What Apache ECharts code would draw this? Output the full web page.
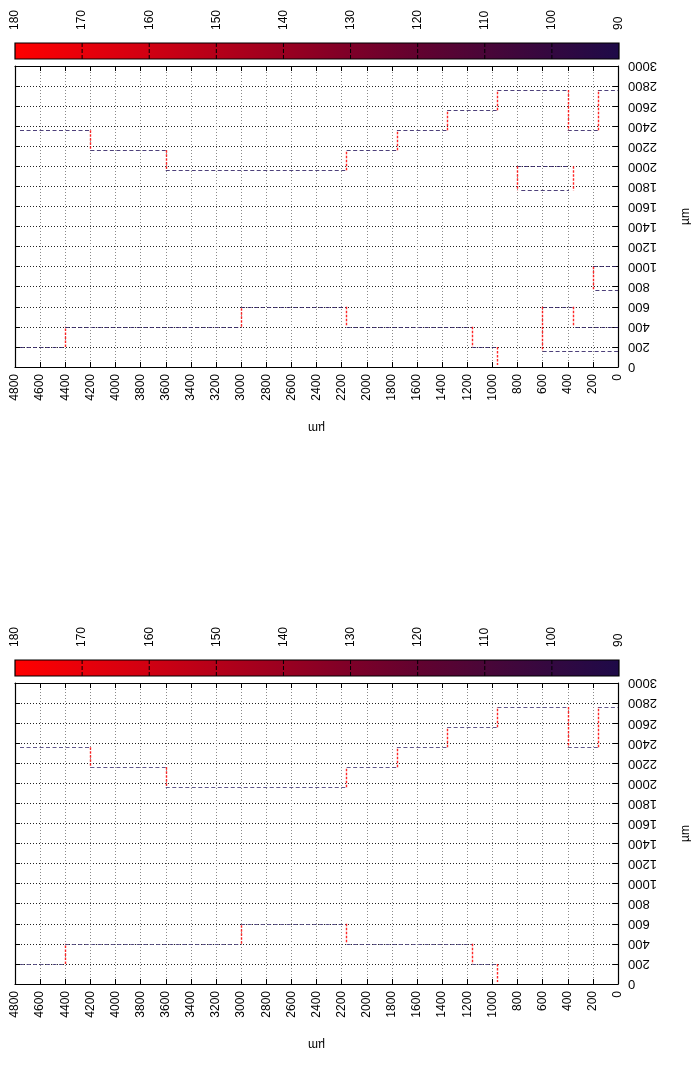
<!DOCTYPE html>
<html><head><meta charset="utf-8">
<script src="https://cdn.jsdelivr.net/npm/echarts@6/dist/echarts.min.js"></script>
<style>html,body{margin:0;padding:0;background:#fff}#c{width:691px;height:1068px}</style>
</head><body><div id="c"></div>
<script>
// ---- data ----
const xRange = [0, 4800];
const yRange = [0, 3000];
const tickStep = 200;
const cbRange = [90, 180];
const cbStep = 10;
const axisName = 'µm';

// step profiles (x in µm, y in µm), shared by both panels
const lowerProfile = [[4760,200],[4400,200],[4400,400],[3000,400],[3000,600],[2160,600],[2160,400],[1160,400],[1160,200],[960,200],[960,20]];
const upperProfile = [[4760,2360],[4200,2360],[4200,2160],[3600,2160],[3600,1960],[2160,1960],[2160,2160],[1760,2160],[1760,2360],[1360,2360],[1360,2560],[960,2560],[960,2760],[400,2760],[400,2360],[160,2360],[160,2760],[0,2760]];
// extra segments only in the top panel [x1,y1,x2,y2]
const extraTop = [
  [800,2000,390,2000],[770,1760,390,1760],[800,2000,800,1760],[360,2000,360,1760],
  [200,1000,0,1000],[200,1000,200,760],[180,760,0,760],
  [600,600,340,600],[600,600,600,160],[360,600,360,400],[340,400,0,400],[600,160,0,160]
];
// palette stops for colour bar from 180 (left) to 90 (right)
const cbColors = ['#ff0000','#e8000a','#d00012','#b50019','#9a0020','#7e0028','#62022f','#4a0638','#330840','#1e0a48'];

// ---- helpers ----
function pathToSegs(p){const s=[];for(let i=0;i<p.length-1;i++)s.push([p[i][0],p[i][1],p[i+1][0],p[i+1][1]]);return s;}
const baseSegs = pathToSegs(lowerProfile).concat(pathToSegs(upperProfile));
const panelSegs = [baseSegs.concat(extraTop), baseSegs];

const layout = [{cbTop:43, top:66, hzColor:'#2e1f63'},{cbTop:660, top:683, hzColor:'#4a3f7a'}];
const L = 15, W = 603, H = 301, CBH = 16;
const plain = v => String(v);

const grids=[], xAxes=[], yAxes=[], series=[];
const cbTicks=[]; for(let v=cbRange[0]; v<=cbRange[1]; v+=cbStep) cbTicks.push(v);
const font = 'Liberation Sans, Arial, sans-serif';

layout.forEach((ly, i) => {
  const gPlot = grids.length;
  grids.push({left:L, top:ly.top, width:W, height:H, containLabel:false, outerBoundsMode:'none'});
  const gCb = grids.length;
  grids.push({left:L, top:ly.cbTop, width:W+1, height:CBH, containLabel:false, outerBoundsMode:'none'});
  const xi = xAxes.length;
  xAxes.push({type:'value', gridIndex:gPlot, min:xRange[0], max:xRange[1], interval:tickStep, inverse:true, position:'bottom',
    name: axisName, nameLocation:'middle', nameGap:54, nameRotate:180, nameTextStyle:{fontSize:12, color:'#000', fontFamily:font},
    axisLine:{show:true, onZero:false, lineStyle:{color:'#000', width:1.2}},
    axisTick:{show:true, inside:true, length:5, lineStyle:{color:'#000'}},
    axisLabel:{rotate:90, fontSize:12, margin:7, color:'#000', fontFamily:font, formatter:plain},
    splitLine:{show:true, lineStyle:{color:'#8a8a8a', type:[1,2], width:1}}});
  xAxes.push({type:'value', gridIndex:gPlot, min:xRange[0], max:xRange[1], interval:tickStep, inverse:true, position:'top',
    axisLine:{show:true, onZero:false, lineStyle:{color:'#000', width:1.2}},
    axisTick:{show:true, inside:true, length:5, lineStyle:{color:'#000'}},
    axisLabel:{show:false}, splitLine:{show:false}});
  const xc = xAxes.length;
  xAxes.push({type:'value', gridIndex:gCb, min:cbRange[0], max:cbRange[1], interval:cbStep, inverse:true, position:'top',
    axisLine:{show:false}, axisTick:{show:false}, splitLine:{show:false},
    axisLabel:{rotate:90, fontSize:12, margin:13, color:'#000', fontFamily:font, formatter:plain}});
  const yi = yAxes.length;
  yAxes.push({type:'value', gridIndex:gPlot, min:yRange[0], max:yRange[1], interval:tickStep, position:'right',
    name: axisName, nameLocation:'middle', nameGap:62, nameRotate:90, nameTextStyle:{fontSize:12, color:'#000', fontFamily:font},
    axisLine:{show:true, onZero:false, lineStyle:{color:'#000', width:1.2}},
    axisTick:{show:true, inside:true, length:5, lineStyle:{color:'#000'}},
    axisLabel:{rotate:180, fontSize:13, margin:10, color:'#000', fontFamily:font, formatter:plain},
    splitLine:{show:true, lineStyle:{color:'#222', type:[1,2], width:1}}});
  yAxes.push({type:'value', gridIndex:gPlot, min:yRange[0], max:yRange[1], interval:tickStep, position:'left',
    axisLine:{show:true, onZero:false, lineStyle:{color:'#000', width:1.2}},
    axisTick:{show:true, inside:true, length:5, lineStyle:{color:'#000'}},
    axisLabel:{show:false}, splitLine:{show:false}});
  const yc = yAxes.length;
  yAxes.push({type:'value', gridIndex:gCb, min:0, max:1, show:false});

  const segs = panelSegs[i];
  const hz = segs.filter(s => s[1]===s[3]).map(s => ({coords:[[s[0],s[1]],[s[2],s[3]]]}));
  const vt = segs.filter(s => s[1]!==s[3]).map(s => ({coords:[[s[0],s[1]],[s[2],s[3]]]}));
  series.push({type:'lines', coordinateSystem:'cartesian2d', xAxisIndex:xi, yAxisIndex:yi, data:hz, silent:true,
    lineStyle:{color:ly.hzColor, width:1.2, type:[4,2.5], opacity:0.85}, z:3});
  series.push({type:'lines', coordinateSystem:'cartesian2d', xAxisIndex:xi, yAxisIndex:yi, data:vt, silent:true,
    lineStyle:{color:'#ff1010', width:1.4, type:[2.5,1.5], opacity:0.9}, z:3});
  series.push({type:'custom', xAxisIndex:xc, yAxisIndex:yc, data:[[cbRange[1], cbRange[0]]], silent:true,
    renderItem:function(params, api){
      const p1 = api.coord([cbRange[1], 0]);
      const p2 = api.coord([cbRange[0], 1]);
      const stops = cbColors.map((c,k)=>({offset:k/(cbColors.length-1), color:c}));
      const children = [{type:'rect', shape:{x:p1[0], y:p2[1], width:p2[0]-p1[0], height:p1[1]-p2[1]},
        style:{fill:new echarts.graphic.LinearGradient(0,0,1,0,stops)}}];
      cbTicks.forEach(t => {
        if (t===cbRange[0]||t===cbRange[1]) return;
        const a = api.coord([t,0]), b = api.coord([t,1]);
        children.push({type:'line', shape:{x1:a[0], y1:a[1], x2:b[0], y2:b[1]}, style:{stroke:'#000', lineWidth:1, lineDash:[4,2]}});
      });
      children.push({type:'rect', shape:{x:p1[0], y:p2[1], width:p2[0]-p1[0], height:p1[1]-p2[1]},
        style:{fill:null, stroke:'#000', lineWidth:1.2}});
      return {type:'group', children};
    }});
});

const chart = echarts.init(document.getElementById('c'), null, {renderer:'canvas'});
chart.setOption({animation:false, backgroundColor:'#fff', grid:grids, xAxis:xAxes, yAxis:yAxes, series});
</script></body></html>
